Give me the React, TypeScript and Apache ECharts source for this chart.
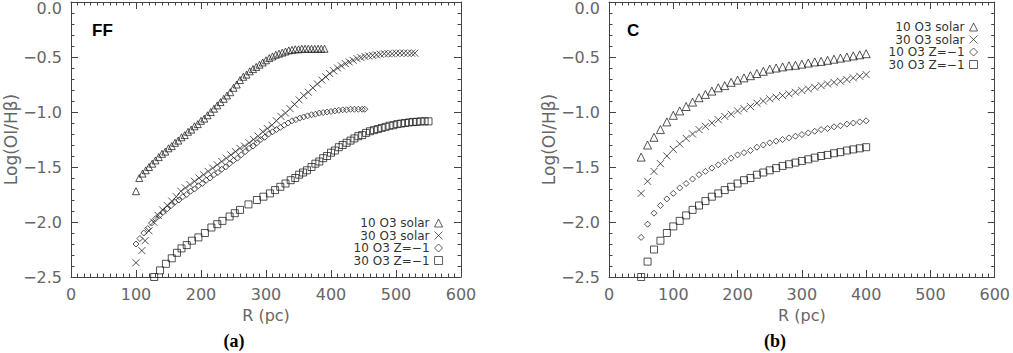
import React, { useEffect, useRef } from "react";
import * as echarts from "echarts";

// ---------- Panel (a) FF ----------
const ffTriR = [100,105,110,115,120,125,130,135,140,145,150,155,160,165,170,175,180,185,190,195,200,205,210,215,220,225,230,235,240,245,250,255,260,265,270,275,280,285,290,295,300,305,310,315,320,325,330,335,340,345,350,355,360,365,370,375,380,385,390];
const ffTriV = [-1.72,-1.60,-1.56,-1.53,-1.50,-1.47,-1.44,-1.41,-1.38,-1.36,-1.33,-1.31,-1.28,-1.26,-1.23,-1.21,-1.18,-1.16,-1.13,-1.11,-1.08,-1.06,-1.03,-1.00,-0.97,-0.94,-0.91,-0.88,-0.85,-0.82,-0.78,-0.75,-0.71,-0.68,-0.66,-0.63,-0.61,-0.59,-0.57,-0.55,-0.53,-0.51,-0.495,-0.48,-0.47,-0.46,-0.45,-0.44,-0.435,-0.43,-0.43,-0.425,-0.425,-0.425,-0.425,-0.425,-0.425,-0.425,-0.425];

const ffXR = [100,109,114,120,127,134,141,148,155,162,169,176,183,190,197,204,211,218,225,232,239,246,253,260,267,274,281,288,295,302,309,316,323,330,337,344,351,358,365,372,379,386,392,398,404,410,416,422,428,434,440,446,452,458,464,470,476,482,488,494,500,506,512,518,524,529];
const ffXV = [-2.37,-2.26,-2.17,-2.08,-2.00,-1.94,-1.89,-1.85,-1.81,-1.77,-1.72,-1.69,-1.66,-1.63,-1.60,-1.57,-1.54,-1.51,-1.48,-1.45,-1.42,-1.39,-1.36,-1.33,-1.31,-1.28,-1.25,-1.22,-1.18,-1.15,-1.12,-1.08,-1.04,-1.01,-0.97,-0.93,-0.89,-0.85,-0.82,-0.78,-0.745,-0.71,-0.68,-0.65,-0.625,-0.60,-0.58,-0.56,-0.545,-0.53,-0.515,-0.505,-0.495,-0.49,-0.485,-0.48,-0.475,-0.47,-0.47,-0.47,-0.465,-0.465,-0.465,-0.465,-0.465,-0.465];

const ffDiaR = [100,106,112,118,124,130,136,142,148,154,160,166,172,178,184,190,196,202,208,214,220,226,232,238,244,250,256,262,268,274,280,286,292,298,304,310,316,322,328,334,340,346,352,358,364,370,376,382,388,394,400,406,412,418,424,430,436,442,448,452];
const ffDiaV = [-2.20,-2.15,-2.10,-2.06,-2.01,-1.97,-1.94,-1.91,-1.88,-1.85,-1.82,-1.80,-1.77,-1.75,-1.72,-1.70,-1.67,-1.65,-1.62,-1.60,-1.57,-1.55,-1.52,-1.50,-1.47,-1.44,-1.42,-1.39,-1.36,-1.33,-1.31,-1.28,-1.25,-1.23,-1.20,-1.18,-1.16,-1.14,-1.12,-1.10,-1.08,-1.07,-1.055,-1.045,-1.035,-1.025,-1.02,-1.01,-1.005,-1.00,-0.995,-0.99,-0.985,-0.98,-0.98,-0.975,-0.975,-0.975,-0.975,-0.975];

const ffSqR = [128,137,146,155,163,170,178,186,196,206,216,225,233,244,252,260,273,286,296,306,314,322,330,338,345,351,357,363,370,376,382,388,394,400,406,412,418,424,430,436,442,448,454,460,466,472,478,484,490,496,502,508,514,520,526,532,538,544,550];
const ffSqV = [-2.50,-2.44,-2.38,-2.33,-2.28,-2.24,-2.21,-2.17,-2.14,-2.10,-2.05,-2.02,-1.99,-1.95,-1.92,-1.89,-1.84,-1.80,-1.77,-1.74,-1.71,-1.68,-1.65,-1.62,-1.60,-1.57,-1.55,-1.53,-1.50,-1.47,-1.45,-1.42,-1.40,-1.37,-1.35,-1.32,-1.30,-1.28,-1.26,-1.24,-1.22,-1.21,-1.19,-1.175,-1.165,-1.155,-1.145,-1.135,-1.125,-1.12,-1.11,-1.105,-1.10,-1.095,-1.09,-1.09,-1.085,-1.085,-1.085];

// ---------- Panel (b) C ----------
const cR = [50,60,70,80,90,100,110,120,130,140,150,160,170,180,190,200,210,220,230,240,250,260,270,280,290,300,310,320,330,340,350,360,370,380,390,400];
const cTriV = [-1.41,-1.30,-1.23,-1.16,-1.09,-1.03,-0.99,-0.95,-0.91,-0.87,-0.84,-0.81,-0.78,-0.76,-0.73,-0.71,-0.69,-0.67,-0.65,-0.63,-0.61,-0.60,-0.59,-0.58,-0.575,-0.565,-0.555,-0.545,-0.54,-0.53,-0.52,-0.51,-0.50,-0.49,-0.48,-0.47];
const cXV = [-1.74,-1.63,-1.54,-1.47,-1.40,-1.34,-1.29,-1.24,-1.20,-1.16,-1.13,-1.10,-1.07,-1.04,-1.02,-0.99,-0.97,-0.95,-0.92,-0.90,-0.88,-0.865,-0.85,-0.835,-0.82,-0.805,-0.79,-0.775,-0.76,-0.745,-0.73,-0.72,-0.705,-0.69,-0.675,-0.66];
const cDiaV = [-2.14,-2.02,-1.92,-1.85,-1.79,-1.74,-1.69,-1.65,-1.61,-1.57,-1.54,-1.51,-1.48,-1.45,-1.42,-1.39,-1.37,-1.35,-1.32,-1.30,-1.28,-1.265,-1.25,-1.235,-1.22,-1.205,-1.19,-1.175,-1.16,-1.15,-1.135,-1.125,-1.11,-1.10,-1.09,-1.08];
const cSqV = [-2.50,-2.36,-2.25,-2.17,-2.10,-2.04,-1.99,-1.94,-1.89,-1.85,-1.81,-1.77,-1.74,-1.71,-1.68,-1.65,-1.62,-1.60,-1.57,-1.55,-1.53,-1.51,-1.49,-1.475,-1.46,-1.445,-1.43,-1.415,-1.40,-1.39,-1.375,-1.365,-1.35,-1.34,-1.33,-1.32];

const seriesNames = ["10 O3 solar", "30 O3 solar", "10 O3 Z=\u22121", "30 O3 Z=\u22121"];
const xTicks = { min: 0, max: 600, interval: 100 };
const yTicks = { min: -2.5, max: 0, interval: 0.5 };

const zip = (xs: number[], ys: number[]) => xs.map((x, i) => [x, ys[i]]);

const X_PATH = "path://M0,0L10,10M10,0L0,10";
const AX = "#444";
const LBL = "#666";
const FONT = "DejaVu Sans";

function App() {
  const ref = useRef<HTMLDivElement>(null);
  useEffect(() => {
    if (!ref.current) return;
    const chart = echarts.init(ref.current, undefined, { renderer: "svg" });

    const mkX = (gi: number, pos: "bottom" | "top") => ({
      type: "value",
      gridIndex: gi,
      position: pos,
      ...xTicks,
      name: pos === "bottom" ? "R (pc)" : "",
      nameLocation: "middle",
      nameGap: 30,
      nameTextStyle: { fontSize: 16, color: LBL, fontFamily: FONT },
      axisLine: { show: true, onZero: false, lineStyle: { color: AX, width: 1 } },
      axisTick: { show: true, inside: true, length: 7, lineStyle: { color: AX } },
      minorTick: { show: true, splitNumber: 10, length: 3.5, lineStyle: { color: AX } },
      splitLine: { show: false },
      axisLabel:
        pos === "bottom"
          ? { show: true, margin: 9, fontSize: 16, color: LBL, fontFamily: FONT }
          : { show: false },
    });
    const mkY = (gi: number, pos: "left" | "right") => ({
      type: "value",
      gridIndex: gi,
      position: pos,
      ...yTicks,
      name: pos === "left" ? "Log(OI/H\u03B2)" : "",
      nameLocation: "middle",
      nameRotate: 90,
      nameGap: 52,
      nameTextStyle: { fontSize: 17, color: LBL, fontFamily: FONT },
      axisLine: { show: true, onZero: false, lineStyle: { color: AX, width: 1 } },
      axisTick: { show: true, inside: true, length: 7, lineStyle: { color: AX } },
      minorTick: { show: true, splitNumber: 5, length: 3.5, lineStyle: { color: AX } },
      splitLine: { show: false },
      axisLabel:
        pos === "left"
          ? {
              show: true,
              margin: 9,
              fontSize: 16,
              color: LBL,
              fontFamily: FONT,
              formatter: (v: number) =>
                Math.abs(v) < 1e-9 ? "{t|0.0}" : "\u2212" + Math.abs(v).toFixed(1),
              rich: { t: { padding: [12, 0, 0, 0], fontSize: 16, color: LBL, fontFamily: FONT } },
            }
          : { show: false },
    });

    const mkS = (name: string, symbol: string, size: number, ai: number, data: number[][]) => ({
      type: "scatter",
      name,
      xAxisIndex: ai,
      yAxisIndex: ai,
      data,
      symbol,
      symbolSize: size,
      silent: true,
      clip: true,
      itemStyle: { color: "rgba(0,0,0,0)", borderColor: "#111", borderWidth: 0.9 },
    });

    const legendBase = {
      orient: "vertical",
      align: "right",
      itemWidth: 8,
      itemHeight: 8,
      itemGap: 0.5,
      selectedMode: false,
      data: seriesNames,
      itemStyle: { color: "rgba(0,0,0,0)", borderColor: "#222", borderWidth: 0.9 },
      textStyle: { fontSize: 12, color: "#333", fontFamily: FONT, lineHeight: 12 },
    };

    chart.setOption({
      animation: false,
      backgroundColor: "#fff",
      grid: [
        { left: 71, top: 1, width: 390, height: 276 },
        { left: 609, top: 1, width: 390, height: 276 },
      ],
      xAxis: [mkX(0, "bottom"), mkX(0, "top"), mkX(1, "bottom"), mkX(1, "top")],
      yAxis: [mkY(0, "left"), mkY(0, "right"), mkY(1, "left"), mkY(1, "right")],
      legend: [
        { ...legendBase, right: 565, top: 212 },
        { ...legendBase, right: 30, top: 16 },
      ],
      series: [
        mkS(seriesNames[0], "triangle", 7, 0, zip(ffTriR, ffTriV)),
        mkS(seriesNames[1], X_PATH, 7, 0, zip(ffXR, ffXV)),
        mkS(seriesNames[2], "diamond", 6, 0, zip(ffDiaR, ffDiaV)),
        mkS(seriesNames[3], "rect", 7, 0, zip(ffSqR, ffSqV)),
        mkS(seriesNames[0], "triangle", 8, 2, zip(cR, cTriV)),
        mkS(seriesNames[1], X_PATH, 7, 2, zip(cR, cXV)),
        mkS(seriesNames[2], "diamond", 6, 2, zip(cR, cDiaV)),
        mkS(seriesNames[3], "rect", 7, 2, zip(cR, cSqV)),
      ],
      graphic: [
        { type: "text", left: 92, top: 22, style: { text: "FF", fontSize: 17, fontWeight: "bold", fontFamily: "Liberation Sans", fill: "#000" } },
        { type: "text", left: 627, top: 22, style: { text: "C", fontSize: 17, fontWeight: "bold", fontFamily: "Liberation Sans", fill: "#000" } },
        { type: "text", x: 234, y: 341, style: { text: "(a)", fontSize: 18, fontWeight: "bold", fontFamily: "Liberation Serif", fill: "#000", align: "center", verticalAlign: "middle" } },
        { type: "text", x: 775, y: 341, style: { text: "(b)", fontSize: 18, fontWeight: "bold", fontFamily: "Liberation Serif", fill: "#000", align: "center", verticalAlign: "middle" } },
      ],
    });
    return () => chart.dispose();
  }, []);
  return (
    <div
      ref={ref}
      style={{ position: "absolute", left: 0, top: 0, width: 1013, height: 353, background: "#fff" }}
    />
  );
}

export default App;
